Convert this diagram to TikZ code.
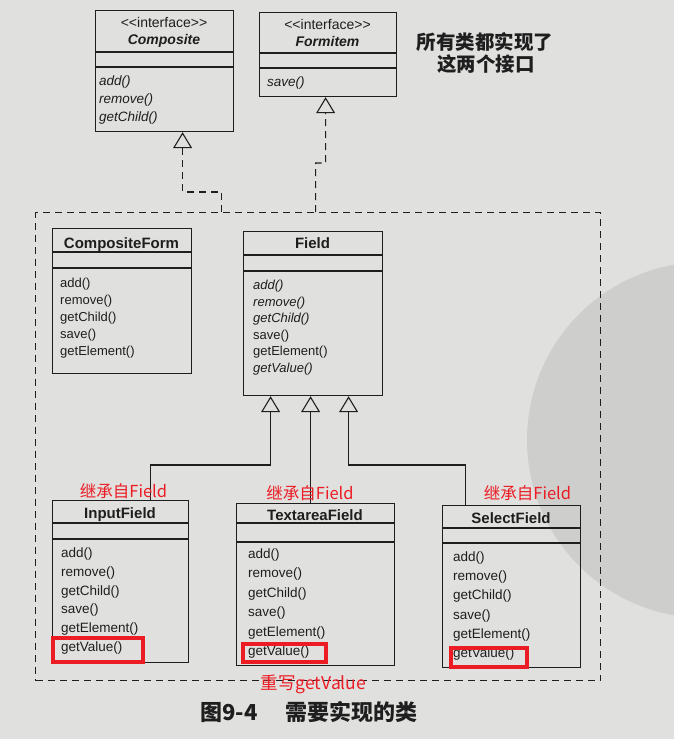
\documentclass[tikz,border=0pt]{standalone}
\usepackage{fontspec}
\setmainfont{Liberation Sans}
\newfontfamily\cjk{Noto Sans CJK SC}
\usetikzlibrary{arrows.meta}
\definecolor{paper}{RGB}{224,224,222}
\definecolor{blotch}{RGB}{206,206,204}
\definecolor{ink}{RGB}{30,30,30}
\definecolor{mark}{RGB}{236,28,36}

\begin{document}
\begin{tikzpicture}[x=1pt,y=-1pt,
  box/.style={draw=ink, line width=1.2pt, rectangle, inner sep=0pt, anchor=north west},
  sep/.style={draw=ink, line width=1.1pt},
  title/.style={anchor=base, inner sep=0pt, text=ink, font=\fontsize{15}{18}\selectfont\bfseries},
  stereo/.style={anchor=base, inner sep=0pt, text=ink, font=\fontsize{14}{16}\selectfont},
  op/.style={anchor=base west, inner sep=0pt, text=ink, font=\fontsize{13}{16}\selectfont},
  iop/.style={op, font=\fontsize{13.5}{16}\selectfont\itshape},
  inherit/.style={draw=ink, line width=1.1pt, -{Triangle[open, length=16pt, width=19pt]}},
  realize/.style={inherit, dash pattern=on 7pt off 5pt},
  group/.style={draw=ink, line width=1.3pt, dash pattern=on 7pt off 5pt, rectangle, inner sep=0pt, anchor=north west},
  redbox/.style={draw=mark, line width=3.5pt, rectangle, inner sep=0pt, anchor=north west},
  redtext/.style={inner sep=0pt, text=mark, font=\cjk\fontsize{16.5}{20}\selectfont},
  note/.style={inner sep=0pt, text=ink, font=\cjk\bfseries\fontsize{19.5}{22}\selectfont}
]
% page and scanned background
\useasboundingbox (0,0) rectangle (674,739);
\fill[paper] (0,0) rectangle (674,739);
\begin{scope}
  \clip (0,0) rectangle (674,739);
  \fill[blotch] (705,440) circle (178);
\end{scope}

% ---------- interfaces ----------
\node[box, minimum width=138pt, minimum height=121pt] (comp) at (95,10) {};
\draw[sep] (comp.west |- 0,52) -- (comp.east |- 0,52);
\draw[sep] (comp.west |- 0,67) -- (comp.east |- 0,67);
\node[stereo] (comp-st) at (164,27.5) {<{}<interface>{}>};
\node[title, font=\fontsize{14}{16}\selectfont\bfseries\itshape] (comp-name) at (164,44.5) {Composite};
\foreach \t [count=\i from 0] in {add(),remove(),getChild()}
  \node[iop] (comp-op\i) at (99,{85.5+\i*18}) {\t};

\node[box, minimum width=137pt, minimum height=84pt] (form) at (259,12) {};
\draw[sep] (form.west |- 0,53) -- (form.east |- 0,53);
\draw[sep] (form.west |- 0,68) -- (form.east |- 0,68);
\node[stereo] (form-st) at (327.5,29.5) {<{}<interface>{}>};
\node[title, font=\fontsize{14}{16}\selectfont\bfseries\itshape] (form-name) at (327.5,46.5) {Formitem};
\node[iop] (form-op0) at (267,86.5) {save()};

\node[note] (note1) at (485,42) {所有类都实现了};
\node[note] (note2) at (486,64) {这两个接口};

% ---------- implementing classes ----------
\node[group, minimum width=565pt, minimum height=468pt] (grp) at (35,212) {};

\node[box, minimum width=139pt, minimum height=145pt] (cform) at (52,228) {};
\draw[sep] (cform.west |- 0,252) -- (cform.east |- 0,252);
\draw[sep] (cform.west |- 0,268) -- (cform.east |- 0,268);
\node[title] (cform-name) at (121.5,248.5) {CompositeForm};
\foreach \t [count=\i from 0] in {add(),remove(),getChild(),save(),getElement()}
  \node[op] (cform-op\i) at (60,{287.5+\i*17}) {\t};

\node[box, minimum width=139pt, minimum height=164pt] (field) at (243,231) {};
\draw[sep] (field.west |- 0,255) -- (field.east |- 0,255);
\draw[sep] (field.west |- 0,271) -- (field.east |- 0,271);
\node[title] (field-name) at (312.5,248.5) {Field};
\foreach \t [count=\i from 0] in {\itshape add(),\itshape remove(),\itshape getChild(),save(),getElement(),\itshape getValue()}
  \node[op] (field-op\i) at (253,{289.5+\i*16.6}) {\t};

\node[box, minimum width=136pt, minimum height=162pt] (inp) at (52,500) {};
\draw[sep] (inp.west |- 0,523) -- (inp.east |- 0,523);
\draw[sep] (inp.west |- 0,539) -- (inp.east |- 0,539);
\node[title] (inp-name) at (120,518) {InputField};
\foreach \t [count=\i from 0] in {add(),remove(),getChild(),save(),getElement(),getValue()}
  \node[op, font=\fontsize{13.5}{16}\selectfont] (inp-op\i) at (61,{557.5+\i*18.8}) {\t};

\node[box, minimum width=158pt, minimum height=162pt] (txt) at (236,503) {};
\draw[sep] (txt.west |- 0,523) -- (txt.east |- 0,523);
\draw[sep] (txt.west |- 0,542) -- (txt.east |- 0,542);
\node[title] (txt-name) at (315,520) {TextareaField};
\foreach \t [count=\i from 0] in {add(),remove(),getChild(),save(),getElement(),getValue()}
  \node[op, font=\fontsize{13.5}{16}\selectfont] (txt-op\i) at (248,{558.5+\i*19.4}) {\t};

\node[box, minimum width=138pt, minimum height=162pt] (sel) at (442,505) {};
\draw[sep] (sel.west |- 0,528) -- (sel.east |- 0,528);
\draw[sep] (sel.west |- 0,543) -- (sel.east |- 0,543);
\node[title] (sel-name) at (511,523.5) {SelectField};
\foreach \t [count=\i from 0] in {add(),remove(),getChild(),save(),getElement(),getValue()}
  \node[op, font=\fontsize{13.5}{16}\selectfont] (sel-op\i) at (453,{561.5+\i*19.2}) {\t};

% ---------- relations ----------
\draw[realize] ([xshift=-96.5pt]grp.north) -- ++(0,-20) -| ([xshift=18pt]comp.south);
\draw[realize] ([xshift=-2.5pt]grp.north) -- ++(0,-49) -- ++(10,0) -- ([xshift=-2.5pt]form.south);

\draw[inherit] ([xshift=30pt]inp.north) -- ++(0,-35) -| ([xshift=-42.5pt]field.south);
\draw[inherit] ([xshift=-5pt]txt.north) -- ([xshift=-2.5pt]field.south);
\draw[inherit] ([xshift=-46pt]sel.north) -- ++(0,-40) -| ([xshift=35.5pt]field.south);

% ---------- annotations ----------
\node[redtext] (lab1) at (123.5,491) {继承自Field};
\node[redtext] (lab2) at (310,493) {继承自Field};
\node[redtext] (lab3) at (527.5,493) {继承自Field};

\node[redbox, minimum width=90pt, minimum height=24pt] (hl1) at (51,636) {};
\node[redbox, minimum width=83pt, minimum height=18pt] (hl2) at (241,642) {};
\node[redbox, minimum width=76pt, minimum height=19pt] (hl3) at (449,646) {};
\node[redtext, font=\cjk\fontsize{17.5}{20}\selectfont] (over) at (313.5,684) {重写getValue};

% ---------- caption ----------
\node[anchor=west, inner sep=0pt, text=ink, font=\cjk\bfseries\fontsize{22}{24}\selectfont] (cap) at (200,712) {图9-4\hspace{28pt}需要实现的类};
\end{tikzpicture}
\end{document}
